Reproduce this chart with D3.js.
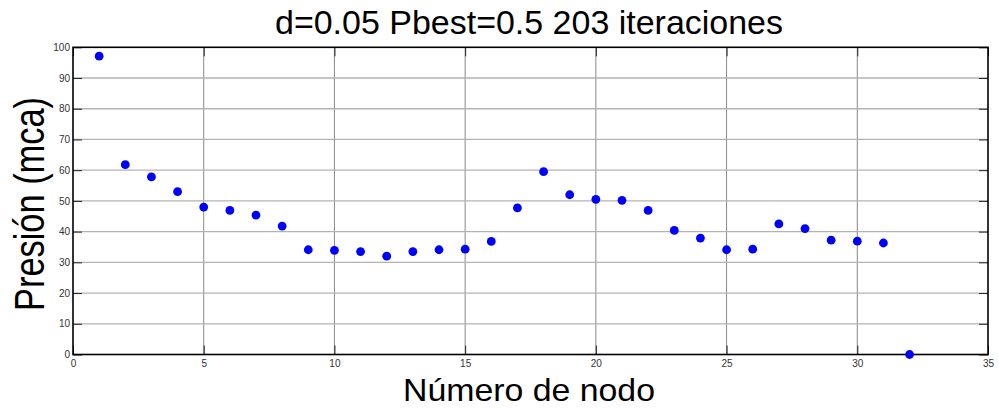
<!DOCTYPE html>
<html><head><meta charset="utf-8">
<script src="https://cdn.jsdelivr.net/npm/d3@7"></script>
<style>body{margin:0;background:#fff;} svg{display:block;}</style>
</head><body>
<svg id="c" width="999" height="408"></svg>
<script>
const nodes = [1,2,3,4,5,6,7,8,9,10,11,12,13,14,15,16,17,18,19,20,21,22,23,24,25,26,27,28,29,30,31,32];
const pressure = [97.1,61.8,57.8,53.0,48.0,46.9,45.4,41.8,34.1,33.9,33.5,32.0,33.5,34.1,34.3,36.8,47.7,59.5,52.0,50.5,50.2,46.9,40.4,37.9,34.1,34.3,42.5,41.0,37.2,36.9,36.3,0];
const xTicks = [0,5,10,15,20,25,30,35];
const yTicks = [0,10,20,30,40,50,60,70,80,90,100];
const titleText = "d=0.05 Pbest=0.5 203 iteraciones";
const xLabel = "Número de nodo";
const yLabel = "Presión (mca)";

const svg = d3.select("#c");
const L=73, R=988, T=47.3, B=354.5;
const x = d3.scaleLinear().domain([0,35]).range([L,R]);
const y = d3.scaleLinear().domain([0,100]).range([B,T]);
const font = "Liberation Sans, Arial, sans-serif";

// grid
svg.append("g").selectAll("line").data(xTicks.filter(d=>d>0&&d<35)).join("line")
  .attr("x1",d=>x(d)).attr("x2",d=>x(d)).attr("y1",T).attr("y2",B)
  .attr("stroke","#888").attr("stroke-width",1);
svg.append("g").selectAll("line").data(yTicks.filter(d=>d>0&&d<100)).join("line")
  .attr("x1",L).attr("x2",R).attr("y1",d=>y(d)).attr("y2",d=>y(d))
  .attr("stroke","#b3b3b3").attr("stroke-width",1.3);

// axes with inward ticks
const tl = 9;
const xb = d3.axisBottom(x).tickValues(xTicks).tickSize(-tl).tickPadding(5).tickFormat(d3.format("d"));
const xt = d3.axisTop(x).tickValues(xTicks).tickSize(-tl).tickFormat("");
const yl = d3.axisLeft(y).tickValues(yTicks).tickSize(-tl).tickPadding(3).tickFormat(d3.format("d"));
const yr = d3.axisRight(y).tickValues(yTicks).tickSize(-tl).tickFormat("");
function style(g){
  g.select(".domain").remove();
  g.selectAll(".tick line").attr("stroke","#222").attr("stroke-width",1);
  g.selectAll(".tick text").attr("fill","#333").style("font-family",font).style("font-size","10px");
}
svg.append("g").attr("transform",`translate(0,${B})`).call(xb).call(style);
svg.append("g").attr("transform",`translate(0,${T})`).call(xt).call(style);
svg.append("g").attr("transform",`translate(${L},0)`).call(yl).call(style);
svg.append("g").attr("transform",`translate(${R},0)`).call(yr).call(style);

svg.append("rect").attr("x",L).attr("y",T).attr("width",R-L).attr("height",B-T)
  .attr("fill","none").attr("stroke","#000").attr("stroke-width",1.6);

// points
svg.append("g").selectAll("circle").data(nodes.map((n,i)=>[n,pressure[i]])).join("circle")
  .attr("cx",d=>x(d[0])).attr("cy",d=>y(d[1])).attr("r",4.4).attr("fill","#0000ff");

// texts
svg.append("text").attr("x",529).attr("y",34).attr("text-anchor","middle")
  .attr("textLength",508).attr("lengthAdjust","spacingAndGlyphs")
  .style("font-family",font).style("font-size","33px").attr("fill","#000").text(titleText);
svg.append("text").attr("x",529).attr("y",401).attr("text-anchor","middle")
  .attr("textLength",252).attr("lengthAdjust","spacingAndGlyphs")
  .style("font-family",font).style("font-size","32px").attr("fill","#000").text(xLabel);
svg.append("text").attr("transform",`translate(44,204) rotate(-90) scale(1,1.2)`).attr("text-anchor","middle")
  .attr("textLength",214).attr("lengthAdjust","spacingAndGlyphs")
  .style("font-family",font).style("font-size","36px").attr("fill","#000").text(yLabel);
</script>
</body></html>
